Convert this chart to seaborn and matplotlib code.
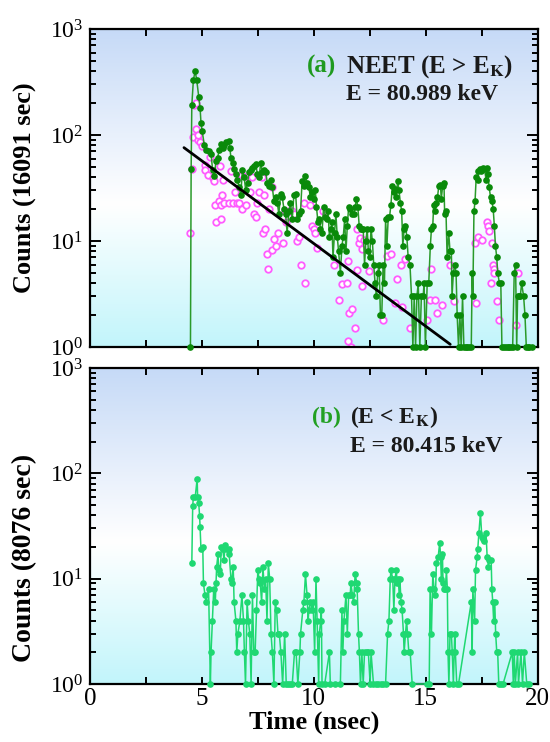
import numpy as np
import pandas as pd
import matplotlib
matplotlib.use("Agg")
import matplotlib.pyplot as plt
import seaborn as sns
from matplotlib.colors import LinearSegmentedColormap
from matplotlib.ticker import LogLocator, LogFormatterMathtext, MultipleLocator, NullFormatter

# ---------------- data ----------------
# Panel (a): NEET, E > E_K  (dark green line + dots)
a_time = [4.49, 4.52, 4.55, 4.62, 4.70, 4.77, 4.86, 4.92, 4.96, 5.01, 5.11, 5.19, 5.30, 5.41, 5.48,
          5.56, 5.63, 5.70, 5.78, 5.85, 5.93, 6.00, 6.07, 6.19, 6.25, 6.30, 6.37, 6.44, 6.52, 6.59,
          6.67, 6.74, 6.81, 6.89, 6.96, 7.04, 7.11, 7.19, 7.26, 7.33, 7.41, 7.48, 7.56, 7.63, 7.70,
          7.78, 7.85, 7.93, 8.00, 8.07, 8.15, 8.22, 8.30, 8.37, 8.44, 8.52, 8.59, 8.67, 8.74, 8.81,
          8.89, 8.96, 9.04, 9.11, 9.19, 9.26, 9.33, 9.41, 9.48, 9.56, 9.63, 9.70, 9.78, 9.85, 9.93,
          10.00, 10.07, 10.12, 10.19, 10.25, 10.30, 10.37, 10.44, 10.52, 10.59, 10.64, 10.70, 10.76,
          10.81, 10.86, 10.93, 10.99, 11.05, 11.11, 11.19, 11.26, 11.32, 11.38, 11.44, 11.50, 11.56,
          11.63, 11.70, 11.78, 11.85, 11.91, 11.97, 12.03, 12.09, 12.15, 12.21, 12.27, 12.33, 12.39,
          12.44, 12.50, 12.56, 12.62, 12.68, 12.74, 12.80, 12.86, 12.92, 12.98, 13.04, 13.10, 13.16,
          13.21, 13.27, 13.33, 13.39, 13.45, 13.51, 13.57, 13.63, 13.69, 13.75, 13.81, 13.87, 13.93,
          13.98, 14.04, 14.10, 14.16, 14.22, 14.30, 14.37, 14.43, 14.49, 14.55, 14.61, 14.67, 14.74,
          14.81, 14.89, 14.93, 14.99, 15.07, 15.14, 15.21, 15.26, 15.32, 15.36, 15.41, 15.47, 15.53,
          15.59, 15.66, 15.70, 15.76, 15.82, 15.85, 15.91, 15.96, 16.03, 16.09, 16.15, 16.18, 16.24,
          16.30, 16.36, 16.41, 16.47, 16.53, 16.59, 16.65, 16.71, 16.79, 16.86, 16.96, 17.04, 17.08,
          17.11, 17.16, 17.21, 17.26, 17.32, 17.36, 17.42, 17.48, 17.56, 17.63, 17.70, 17.75, 17.78,
          17.84, 17.90, 17.96, 18.02, 18.07, 18.12, 18.18, 18.22, 18.30, 18.36, 18.41, 18.52, 18.59,
          18.67, 18.74, 18.81, 18.89, 18.96, 19.02, 19.07, 19.11, 19.17, 19.23, 19.29, 19.38, 19.44,
          19.50, 19.56, 19.63, 19.75]
a_counts = [1, 48, 190, 330, 400, 330, 230, 180, 130, 110, 80, 72, 70, 66, 47,
            41, 57, 61, 72, 82, 75, 81, 85, 87, 75, 61, 55, 48, 43, 38,
            32, 27, 47, 40, 30, 35, 45, 47, 49, 51, 53, 43, 40, 55, 45,
            47, 45, 35, 33, 38, 32, 24, 26, 23, 18, 28, 26, 20, 18, 12,
            19, 23, 16, 27, 28, 16, 18, 19, 37, 33, 41, 35, 32, 26, 29,
            25, 30, 21, 15, 16, 13, 12, 21, 17, 16, 19, 11, 13,
            15, 7, 12, 18, 11, 8, 5, 9, 11, 16, 8, 14, 21,
            20, 18, 18, 21, 25, 21, 14, 13, 13, 13, 6, 10, 13,
            8, 7, 13, 10, 6, 4, 3, 5, 6, 2, 2, 6, 4,
            16, 9, 17, 17, 22, 33, 29, 31, 26, 37, 30, 23, 19,
            9, 13, 14, 11, 7, 6, 3, 1, 3, 1, 3, 4, 1,
            3, 3, 4, 1, 4, 4, 9, 13, 14, 22, 19, 23, 26,
            33, 34, 25, 33, 35, 18, 19, 7, 12, 8, 8, 3, 5,
            6, 5, 2, 1, 2, 1, 3, 1, 1, 1, 1, 1, 5,
            3, 19, 24, 40, 38, 46, 48, 46, 49, 48, 38, 49, 43,
            32, 26, 24, 20, 14, 9, 7, 5, 4, 4, 1, 1, 1,
            1, 1, 1, 1, 5, 6, 1, 3, 3, 3, 4, 3, 2,
            1, 1, 1, 1]

# Panel (a): comparison data (magenta open circles)
ref_time = [4.49, 4.56, 4.62, 4.67, 4.74, 4.74, 4.81, 4.84, 4.92, 5.01, 5.16, 5.16, 5.27, 5.38,
            5.48, 5.56, 5.60, 5.63, 5.75, 5.81, 5.84, 5.84, 5.90, 5.93, 6.00, 6.22, 6.30, 6.41,
            6.46, 6.55, 6.67, 6.74, 6.79, 6.81, 6.96, 7.04, 7.14, 7.23, 7.33, 7.41, 7.48, 7.56,
            7.70, 7.73, 7.78, 7.82, 7.93, 7.97, 8.00, 8.12, 8.12, 8.22, 8.33, 8.41, 8.62, 8.71,
            8.77, 8.89, 9.04, 9.11, 9.26, 9.36, 9.41, 9.56, 9.63, 9.85, 9.90, 10.00, 10.04, 10.15,
            10.40, 10.89, 11.14, 11.26, 11.48, 11.53, 11.53, 11.58, 11.67, 11.73, 11.85, 11.93,
            11.93, 12.04, 12.07, 12.15, 12.15, 12.24, 12.47, 13.11, 13.26, 13.45, 13.63, 13.72,
            13.88, 13.96, 14.07, 14.30, 15.08, 15.19, 15.26, 15.44, 15.50, 15.73, 16.07, 16.27,
            17.21, 17.24, 17.33, 17.51, 17.75, 17.81, 17.85, 17.93, 17.96, 17.99, 18.07, 18.07,
            18.19, 18.27, 19.04, 19.14]
ref_counts = [12, 48, 95, 190, 200, 115, 90, 100, 85, 78, 52, 47, 42, 62,
              39, 37, 22, 15, 24, 51, 22, 16, 27, 38, 23, 23, 46, 23,
              29, 23, 23, 42, 42, 20, 22, 40, 29, 40, 18, 17, 23, 29,
              40, 12, 27, 13, 7.5, 5.5, 20, 32, 8.3, 10.5, 9, 12, 9.5, 19,
              15, 19, 19, 18, 10, 11, 6, 23, 4, 22, 14, 13, 12, 8.5,
              19, 6, 2.8, 3.9, 4.0, 6.5, 1.15, 2.1, 1.0, 2.3, 1.5, 13,
              5.3, 9.6, 10.6, 8.4, 3.8, 10.3, 5.2, 1.8, 7.2, 7.6, 2.6, 4.4,
              5.9, 2.4, 6.8, 1.5, 1.8, 2.8, 5.4, 2.8, 2.1, 2.5, 6, 2.7,
              9.5, 2.6, 10.9, 10.2, 15, 14, 12.5, 4, 9.5, 5.9, 5.4, 5,
              2.7, 1.8, 1.6, 5]

# Panel (a): exponential fit (end points of the straight line on log axis)
fit_time = [4.2, 16.1]
fit_counts = [76, 1.06]

# Panel (b): E < E_K (light green line + dots)
b_time = [4.55, 4.59, 4.62, 4.70, 4.79, 4.81, 4.86, 4.90, 4.92, 4.96, 5.04, 5.07, 5.14, 5.19, 5.30,
          5.38, 5.41, 5.47, 5.53, 5.60, 5.63, 5.66, 5.72, 5.76, 5.82, 5.87, 5.93, 5.99, 6.04, 6.10,
          6.19, 6.22, 6.30, 6.33, 6.40, 6.44, 6.52, 6.56, 6.61, 6.70, 6.79, 6.86, 6.90, 6.95, 7.02,
          7.08, 7.14, 7.20, 7.26, 7.32, 7.38, 7.44, 7.50, 7.56, 7.61, 7.67, 7.73, 7.79, 7.85, 7.91,
          7.97, 8.03, 8.09, 8.15, 8.22, 8.28, 8.34, 8.40, 8.46, 8.53, 8.61, 8.70, 8.77, 8.86, 8.95,
          9.04, 9.14, 9.21, 9.29, 9.38, 9.41, 9.51, 9.56, 9.63, 9.70, 9.75, 9.78, 9.85, 9.93, 9.97,
          10.04, 10.10, 10.15, 10.22, 10.25, 10.31, 10.34, 10.37, 10.49, 10.70, 10.74, 10.96, 11.19,
          11.26, 11.30, 11.35, 11.44, 11.50, 11.56, 11.63, 11.66, 11.73, 11.78, 11.85, 11.93, 11.94,
          12.00, 12.04, 12.09, 12.15, 12.21, 12.27, 12.37, 12.44, 12.52, 12.56, 12.67, 12.77, 12.89,
          13.01, 13.11, 13.21, 13.30, 13.36, 13.42, 13.45, 13.53, 13.58, 13.63, 13.69, 13.73, 13.78,
          13.82, 13.85, 13.90, 13.95, 14.01, 14.04, 14.10, 14.15, 14.19, 14.25, 14.31, 14.40, 15.07,
          15.16, 15.20, 15.26, 15.32, 15.38, 15.44, 15.48, 15.56, 15.63, 15.67, 15.70, 15.75, 15.78,
          15.82, 15.88, 15.93, 15.97, 16.00, 16.04, 16.09, 16.15, 16.19, 16.24, 16.30, 16.33, 16.39,
          16.47, 17.04, 17.08, 17.11, 17.19, 17.23, 17.30, 17.33, 17.38, 17.45, 17.51, 17.57, 17.63,
          17.70, 17.75, 17.81, 17.85, 17.93, 17.96, 18.00, 18.04, 18.09, 18.13, 18.18, 18.22, 18.27,
          18.37, 18.46, 18.87, 18.92, 18.96, 19.01, 19.11, 19.15, 19.26, 19.33, 19.41, 19.52, 19.60]
b_counts = [14, 49, 59, 59, 89, 60, 52, 39, 31, 19, 20, 9, 7, 6, 8,
            1, 2, 4, 8, 6, 9, 13, 17, 12, 11, 20, 19, 15, 21, 19,
            19, 17, 10, 9, 13, 6, 4, 2, 3, 4, 7, 4, 2, 1, 6,
            4, 3, 1, 7, 2, 2, 5, 12, 10, 9, 6, 13, 8, 10, 4,
            14, 10, 3, 2, 1, 6, 5, 3, 3, 2, 1, 3, 1, 1, 1,
            1, 2, 2, 1, 2, 3, 5, 6, 11, 7, 4, 5, 6, 5, 6,
            2, 10, 4, 1, 3, 4, 5, 1, 1, 2, 1, 1, 1,
            5, 2, 4, 7, 3, 7, 7, 9, 7, 6, 11, 9, 8,
            3, 2, 1, 2, 1, 2, 2, 2, 1, 2, 1, 1, 1,
            1, 1, 1, 3, 4, 10, 12, 10, 5, 10, 12, 9, 10,
            7, 10, 6, 5, 3, 2, 3, 4, 3, 2, 2, 1, 1,
            1, 8, 3, 11, 8, 7, 14, 16, 22, 16, 10, 17, 9,
            8, 8, 12, 8, 2, 1, 3, 3, 2, 1, 3, 2, 1,
            1, 6, 2, 8, 4, 12, 16, 19, 27, 42, 25, 24, 23,
            27, 16, 13, 15, 15, 8, 6, 4, 6, 3, 2, 2, 1,
            1, 1, 2, 1, 2, 1, 2, 1, 2, 1, 2, 1, 1]

x_ticks = [0, 5, 10, 15, 20]
x_tick_labels = ["0", "5", "10", "15", "20"]

# ---------------- style ----------------
sns.set_theme(style="ticks")
plt.rcParams['font.family'] = ['Liberation Serif', 'DejaVu Serif']
plt.rcParams['mathtext.fontset'] = 'stix'

W, H = 550, 742
fig = plt.figure(figsize=(W / 100, H / 100), dpi=100)
L, R = 90, 537.5
pos_a = [L / W, 1 - 347 / H, (R - L) / W, 318 / H]
pos_b = [L / W, 1 - 684 / H, (R - L) / W, 316 / H]

bg_cmap = LinearSegmentedColormap.from_list(
    'bg', [(0.0, '#c2f5fb'), (0.45, '#ffffff'), (1.0, '#c6daf7')])
grad = np.linspace(0, 1, 256).reshape(-1, 1)

axes = []
for pos in (pos_a, pos_b):
    bg = fig.add_axes(pos, zorder=0)
    bg.imshow(grad, extent=[0, 1, 0, 1], origin='lower', aspect='auto', cmap=bg_cmap)
    bg.set_axis_off()
    ax = fig.add_axes(pos, zorder=1)
    ax.set_facecolor('none')
    axes.append(ax)
ax1, ax2 = axes

dark_green = '#0a8a0a'
light_green = '#1fd872'

for ax in axes:
    ax.set_yscale('log')

df_ref = pd.DataFrame({'t': ref_time, 'c': ref_counts})
sns.scatterplot(data=df_ref, x='t', y='c', ax=ax1, marker='o', s=22,
                facecolor='white', edgecolor='#ff5cff', linewidth=1.3, zorder=2)

df_a = pd.DataFrame({'t': a_time, 'c': a_counts})
sns.lineplot(data=df_a, x='t', y='c', ax=ax1, estimator=None, sort=False,
             color='#2a9a2a', linewidth=1.1, marker='o', markersize=4.8,
             markerfacecolor=dark_green, markeredgecolor=dark_green, markeredgewidth=0,
             clip_on=False, zorder=3)

df_fit = pd.DataFrame({'t': fit_time, 'c': fit_counts})
sns.lineplot(data=df_fit, x='t', y='c', ax=ax1, estimator=None, sort=False,
             color='black', linewidth=2.0, zorder=4)

df_b = pd.DataFrame({'t': b_time, 'c': b_counts})
sns.lineplot(data=df_b, x='t', y='c', ax=ax2, estimator=None, sort=False,
             color=light_green, linewidth=1.1, marker='o', markersize=4.8,
             markerfacecolor=light_green, markeredgecolor=light_green, markeredgewidth=0,
             clip_on=False, zorder=3)

for ax in axes:
    ax.set_xlim(0, 20)
    ax.set_ylim(1, 1000)
    ax.set_xticks(x_ticks)
    ax.set_xticklabels(x_tick_labels)
    ax.xaxis.set_minor_locator(MultipleLocator(2.5))
    ax.yaxis.set_major_locator(LogLocator(base=10, numticks=10))
    ax.yaxis.set_minor_locator(LogLocator(base=10, subs=np.arange(2, 10), numticks=10))
    ax.yaxis.set_major_formatter(LogFormatterMathtext())
    ax.yaxis.set_minor_formatter(NullFormatter())
    ax.tick_params(which='both', direction='in', top=True, right=True, width=1.4,
                   color='black', labelcolor='black')
    ax.tick_params(axis='x', which='both', length=5, labelsize=18, pad=3)
    ax.tick_params(axis='y', which='major', length=8, labelsize=17, pad=5)
    ax.tick_params(axis='y', which='minor', length=4.5)
    for s in ax.spines.values():
        s.set_linewidth(1.6)
        s.set_color('black')
    ax.grid(False)
    ax.set_xlabel('')

ax1.tick_params(labelbottom=False)

ax1.set_ylabel('Counts (16091 sec)', fontsize=19, fontweight='bold', color='black')
ax1.yaxis.set_label_coords(-0.118, 0.50)
ax2.set_ylabel('Counts (8076 sec)', fontsize=20, fontweight='bold', color='black')
ax2.yaxis.set_label_coords(-0.118, 0.40)
ax2.set_xlabel('Time (nsec)', fontsize=19, fontweight='bold', color='black', labelpad=0)

lab_green = '#1f9a1f'
tkw = dict(fontweight='bold', va='baseline', ha='left')
ax1.text(0.484, 0.862, '(a)', transform=ax1.transAxes, color=lab_green, fontsize=18, **tkw)
ax1.text(0.572, 0.862, r'NEET (E > E$_{\mathbf{K}}$)', transform=ax1.transAxes,
         color='#1a1a1a', fontsize=18, **tkw)
ax1.text(0.572, 0.777, 'E = 80.989 keV', transform=ax1.transAxes, color='#1a1a1a', fontsize=17, **tkw)

ax2.text(0.496, 0.826, '(b)', transform=ax2.transAxes, color='#22a022', fontsize=17, **tkw)
ax2.text(0.581, 0.826, r'(E < E$_{\mathbf{K}}$)', transform=ax2.transAxes, color='#1a1a1a',
         fontsize=17, **tkw)
ax2.text(0.581, 0.734, 'E = 80.415 keV', transform=ax2.transAxes, color='#1a1a1a', fontsize=17, **tkw)

fig.savefig('out.png', dpi=100)
